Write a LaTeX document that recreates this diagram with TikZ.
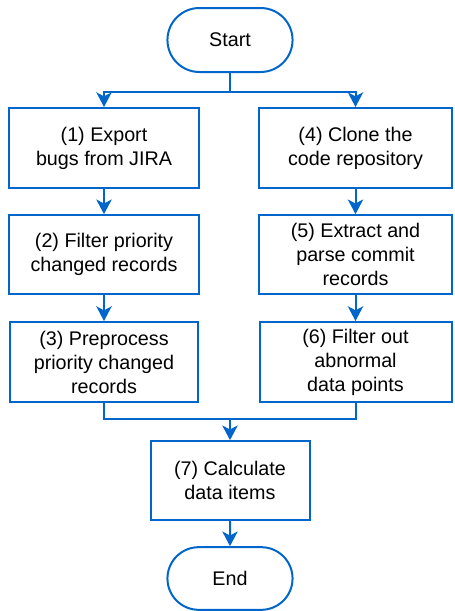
\documentclass[tikz,border=0pt]{standalone}
\usepackage{fontspec}
\setmainfont{Liberation Sans}
\usetikzlibrary{arrows.meta,shapes.misc}
\definecolor{flowblue}{HTML}{0066CC}
\tikzset{>={Stealth[length=11pt,width=11.5pt,inset=3pt]}, line/.style={draw=flowblue, line width=1.5pt},
flow/.style={line, ->, flowblue},
box/.style={line, rectangle, minimum height=60pt, align=center, inner sep=2pt, font=\fontsize{14.8}{18}\selectfont},
term/.style={line, rounded rectangle, minimum width=100.5pt, minimum height=48pt, font=\fontsize{14.8}{18}\selectfont}}

\begin{document}
\begin{tikzpicture}[x=0.75pt,y=-0.75pt]
\useasboundingbox (0,0) rectangle (454,611);
% Terminals
\node[term] (start) at (230,40) {Start};
\node[term, minimum height=47pt] (end) at (230,578.5) {End};
% Left column
\node[box, minimum width=142.5pt] (b1) at (104,148) {(1) Export\\bugs from JIRA};
\node[box, minimum width=142.5pt, minimum height=59pt] (b2) at (104,254.5) {(2) Filter priority\\changed records};
\node[box, minimum width=141pt] (b3) at (104,362) {(3) Preprocess\\priority changed\\records};
% Right column
\node[box, minimum width=144.75pt] (b4) at (355.5,148) {(4) Clone the\\code repository};
\node[box, minimum width=144.75pt, minimum height=59pt] (b5) at (355.5,254.5) {(5) Extract and\\parse commit\\records};
\node[box, minimum width=144pt] (b6) at (355.5,362) {(6) Filter out\\abnormal\\data points};
% Merge
\node[box, minimum width=119.25pt, minimum height=59pt] (b7) at (230,480.5) {(7) Calculate\\data items};
\coordinate (split) at (230,92);
\coordinate (join) at (230,419);
% Connectors
\draw[line] (start.south) -- (split);
\draw[flow] (split) -| (b1.north);
\draw[flow] (split) -| (b4.north);
\draw[flow] (b1) -- (b2);
\draw[flow] (b2) -- (b3);
\draw[flow] (b4) -- (b5);
\draw[flow] (b5) -- (b6);
\draw[line] (b3.south) |- (join);
\draw[line] (b6.south) |- (join);
\draw[flow] (join) -- (b7.north);
\draw[flow] (b7) -- (end);
\end{tikzpicture}
\end{document}
